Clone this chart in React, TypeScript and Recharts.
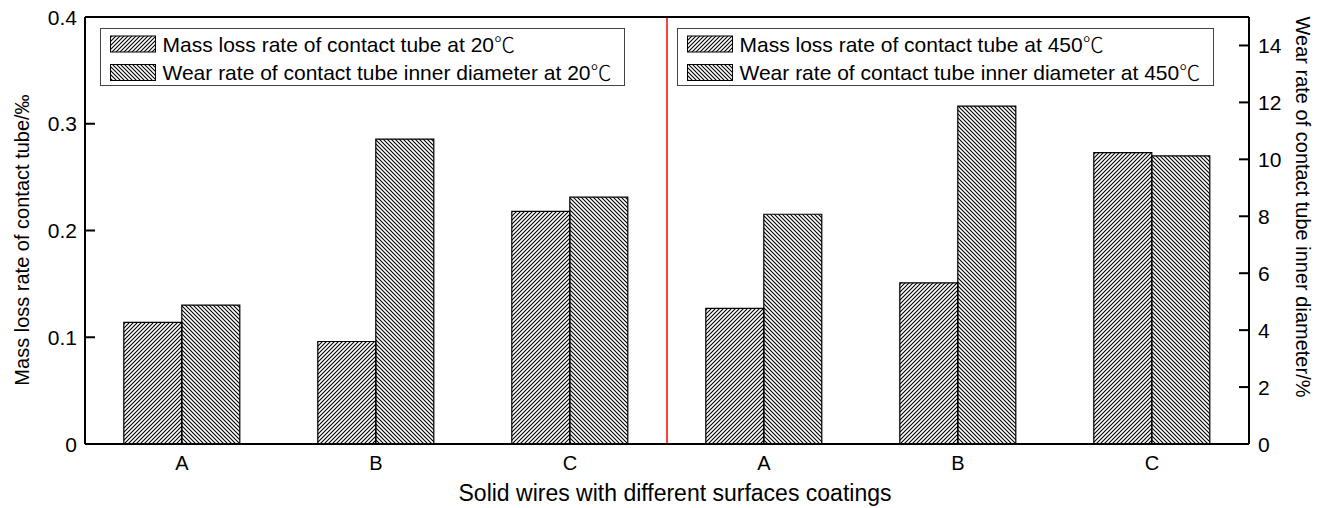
import React from 'react';
import { ComposedChart, Bar, XAxis, YAxis, ReferenceLine } from 'recharts';

const categories = ['A', 'B', 'C', 'A', 'B', 'C'];
const massLossRate = [0.114, 0.096, 0.218, 0.127, 0.151, 0.273];
const wearRate = [4.88, 10.71, 8.67, 8.07, 11.87, 10.12];
const leftTicks = [0, 0.1, 0.2, 0.3, 0.4];
const rightTicks = [0, 2, 4, 6, 8, 10, 12, 14];
const legend20 = ['Mass loss rate of contact tube at 20', 'Wear rate of contact tube inner diameter at 20'];
const legend450 = ['Mass loss rate of contact tube at 450', 'Wear rate of contact tube inner diameter at 450'];
const degree = '\u2103';
const xTitle = 'Solid wires with different surfaces coatings';
const leftTitle = 'Mass loss rate of contact tube/\u2030';
const rightTitle = 'Wear rate of contact tube inner diameter/%';

const data = categories.map((c, i) => ({ idx: i + 0.5, cat: c, mass: massLossRate[i], wear: wearRate[i] }));

const FONT = "'Liberation Sans', Arial, sans-serif";
const CJK = "'Noto Sans CJK SC', sans-serif";
const FS = 21;

const LeftTick = (props: any) => {
  const { x, y, payload } = props;
  const v = payload.value;
  return (
    <g>
      <line x1={x} x2={x + 10} y1={y} y2={y} stroke="#000" strokeWidth={2} />
      <text x={x - 8} y={y} dy="0.36em" textAnchor="end" fontFamily={FONT} fontSize={FS} fill="#000">
        {v === 0 ? '0' : v.toFixed(1)}
      </text>
    </g>
  );
};

const RightTick = (props: any) => {
  const { x, y, payload } = props;
  return (
    <g>
      <line x1={x - 10} x2={x} y1={y} y2={y} stroke="#000" strokeWidth={2} />
      <text x={x + 9} y={y} dy="0.36em" textAnchor="start" fontFamily={FONT} fontSize={FS} fill="#000">
        {String(payload.value)}
      </text>
    </g>
  );
};

const BottomTick = (props: any) => {
  const { x, payload } = props;
  return (
    <text x={x} y={462.5} dy="0.36em" textAnchor="middle" fontFamily={FONT} fontSize={20} fill="#000">
      {payload.value}
    </text>
  );
};

const LegendBox = ({ x, w, items }: { x: number; w: number; items: string[] }) => (
  <g>
    <rect x={x} y={28.5} width={w} height={57} fill="#fff" stroke="#444" strokeWidth={1} />
    <rect x={x + 10} y={36} width={45} height={16} fill="url(#hatchF)" stroke="#000" strokeWidth={1} />
    <rect x={x + 10} y={64.5} width={45} height={16} fill="url(#hatchB)" stroke="#000" strokeWidth={1} />
    <text x={x + 62} y={44} dy="0.36em" fontFamily={FONT} fontSize={FS} fill="#000">
      {items[0]}
      <tspan fontFamily={CJK} fontWeight={300}>{degree}</tspan>
    </text>
    <text x={x + 62} y={72.5} dy="0.36em" fontFamily={FONT} fontSize={FS} fill="#000">
      {items[1]}
      <tspan fontFamily={CJK} fontWeight={300}>{degree}</tspan>
    </text>
  </g>
);

export default function App() {
  return (
    <div style={{ position: 'absolute', left: 0, top: 0, width: 1321, height: 508, background: '#fff' }}>
      <svg width={0} height={0} style={{ position: 'absolute' }}>
        <defs>
          <pattern id="hatchF" patternUnits="userSpaceOnUse" width={4} height={4}>
            <path d="M0,4 L4,0 M-1,1 L1,-1 M3,5 L5,3" stroke="#000" strokeWidth={1.1} />
          </pattern>
          <pattern id="hatchB" patternUnits="userSpaceOnUse" width={4} height={4}>
            <path d="M0,0 L4,4 M-1,3 L1,5 M3,-1 L5,1" stroke="#000" strokeWidth={1.1} />
          </pattern>
        </defs>
      </svg>
      <ComposedChart
        width={1321}
        height={508}
        data={data}
        margin={{ top: 17, right: 12, bottom: 24, left: 25 }}
        barCategoryGap="20%"
        barGap={0}
      >
        <XAxis
          xAxisId="cat"
          dataKey="cat"
          type="category"
          allowDuplicatedCategory
          height={40}
          tickLine={false}
          axisLine={{ stroke: '#000', strokeWidth: 2 }}
          tick={<BottomTick />}
          interval={0}
        />
        <XAxis xAxisId="num" dataKey="idx" type="number" domain={[0, 6]} hide />
        <YAxis
          yAxisId="left"
          orientation="left"
          width={60}
          domain={[0, 0.4]}
          ticks={leftTicks}
          tickLine={false}
          tickSize={0}
          tickMargin={0}
          axisLine={{ stroke: '#000', strokeWidth: 2 }}
          tick={<LeftTick />}
          interval={0}
        />
        <YAxis
          yAxisId="right"
          orientation="right"
          width={60}
          domain={[0, 15]}
          ticks={rightTicks}
          tickLine={false}
          tickSize={0}
          tickMargin={0}
          axisLine={{ stroke: '#000', strokeWidth: 2 }}
          tick={<RightTick />}
          interval={0}
        />
        <ReferenceLine xAxisId="num" yAxisId="left" x={3} stroke="#ff0000" strokeWidth={1.5} />
        <ReferenceLine xAxisId="cat" yAxisId="left" y={0.4} stroke="#000" strokeWidth={2} />
        <Bar xAxisId="cat" yAxisId="left" dataKey="mass" fill="url(#hatchF)" stroke="#000" strokeWidth={1.2} isAnimationActive={false} />
        <Bar xAxisId="cat" yAxisId="right" dataKey="wear" fill="url(#hatchB)" stroke="#000" strokeWidth={1.2} isAnimationActive={false} />
      </ComposedChart>
      <svg width={1321} height={508} style={{ position: 'absolute', left: 0, top: 0, pointerEvents: 'none' }}>
        <LegendBox x={100.5} w={524} items={legend20} />
        <LegendBox x={677.5} w={536} items={legend450} />
        <text x={675} y={493} dy="0.36em" textAnchor="middle" fontFamily={FONT} fontSize={23} fill="#000">{xTitle}</text>
        <text transform="translate(22,240) rotate(-90)" textAnchor="middle" dy="0.36em" fontFamily={FONT} fontSize={20} fill="#000">{leftTitle}</text>
        <text transform="translate(1303,207) rotate(90)" textAnchor="middle" dy="0.36em" fontFamily={FONT} fontSize={20} fill="#000">{rightTitle}</text>
      </svg>
    </div>
  );
}
